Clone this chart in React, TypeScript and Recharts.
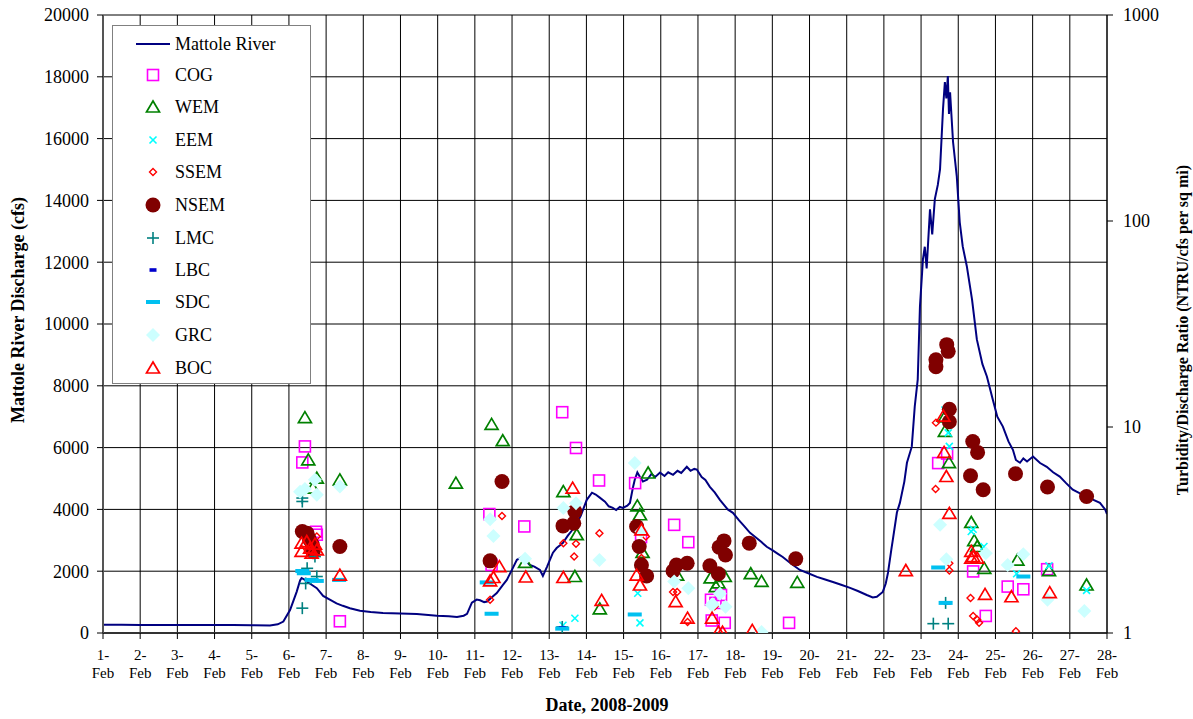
import { ComposedChart, Line, Scatter, XAxis, YAxis, CartesianGrid, Legend } from "recharts";

const FONT = '"Liberation Serif", "Times New Roman", serif';

// Mattole River discharge (cfs)
const flowDays = [
  1.0, 1.5, 2.0, 2.5, 3.0, 3.5, 4.0, 4.5, 5.0, 5.49, 5.7, 5.85, 6.03, 6.21, 6.3, 6.34, 6.43, 6.5, 6.61,
  6.75, 6.92, 7.1, 7.28, 7.45, 7.64, 7.91, 8.2, 8.53, 9.0, 9.44, 9.98, 10.3, 10.52, 10.7, 10.79, 10.92,
  11.05, 11.14, 11.25, 11.33, 11.45, 11.59, 11.75, 11.86, 12.0, 12.13, 12.22, 12.29, 12.4, 12.48, 12.6,
  12.75, 12.83, 12.94, 13.1, 13.2, 13.3, 13.37, 13.5, 13.6, 13.75, 13.85, 14.01, 14.15, 14.25, 14.36,
  14.5, 14.6, 14.71, 14.8, 14.9, 14.98, 15.1, 15.17, 15.25, 15.3, 15.37, 15.44, 15.52, 15.63, 15.75,
  15.85, 15.98, 16.1, 16.2, 16.33, 16.45, 16.55, 16.7, 16.8, 16.9, 16.97, 17.1, 17.2, 17.32, 17.45,
  17.59, 17.7, 17.8, 17.94, 18.1, 18.25, 18.4, 18.55, 18.7, 18.85, 19.0, 19.15, 19.28, 19.5, 19.74,
  19.95, 20.2, 20.4, 20.63, 20.85, 21.09, 21.3, 21.54, 21.7, 21.81, 21.97, 22.05, 22.11, 22.2, 22.24,
  22.35, 22.43, 22.55, 22.62, 22.75, 22.83, 22.91, 22.97, 23.05, 23.1, 23.15, 23.24, 23.3, 23.37, 23.45,
  23.51, 23.59, 23.64, 23.68, 23.72, 23.75, 23.78, 23.86, 23.96, 24.04, 24.12, 24.23, 24.37, 24.5,
  24.65, 24.77, 24.93, 25.05, 25.2, 25.35, 25.47, 25.55, 25.66, 25.75, 25.85, 26.01, 26.2, 26.38,
  26.55, 26.73, 26.9, 27.08, 27.3, 27.46, 27.65, 27.81, 27.95, 28.0,
];
const flowCfs = [
  270, 265, 262, 262, 260, 258, 258, 255, 252, 240, 280, 370, 745, 1340, 1700, 1780, 1720, 1650, 1560,
  1450, 1200, 1080, 960, 880, 800, 720, 680, 650, 630, 615, 560, 540, 520, 560, 620, 980, 1080, 1060,
  1000, 1020, 1150, 1290, 1550, 1720, 2050, 2370, 2420, 2480, 2300, 2200, 2150, 2040, 1850, 2140, 2600,
  2750, 2850, 2920, 3150, 3300, 3570, 3800, 4310, 4540, 4480, 4380, 4250, 4100, 4050, 3980, 4080, 4050,
  4120, 4210, 4700, 4960, 5200, 5050, 4900, 4960, 5150, 5050, 5190, 5080, 5200, 5120, 5250, 5180, 5380,
  5250, 5310, 5290, 5050, 4950, 4730, 4550, 4310, 4150, 4000, 3890, 3650, 3450, 3240, 3100, 2950, 2790,
  2680, 2560, 2460, 2250, 2040, 1940, 1815, 1740, 1650, 1560, 1460, 1360, 1230, 1150, 1170, 1330, 1600,
  1945, 2700, 3015, 3900, 4210, 4900, 5510, 6030, 7330, 8200, 10570, 12090, 12500, 11800, 13710, 12900,
  14040, 14500, 15010, 16960, 17830, 17300, 18025, 16800, 17500, 15890, 14780, 13290, 12510, 11870,
  10800, 9500, 8700, 8300, 7550, 7000, 6680, 6200, 5930, 5600, 5510, 5650, 5550, 5710, 5500, 5380, 5200,
  5060, 4850, 4640, 4500, 4410, 4300, 4210, 4000, 3850,
];

// Turbidity / discharge ratio samples: [day of February, ratio]
const COG = [
  [6.43, 8.05], [6.36, 6.73], [6.75, 3.0], [6.73, 3.1], [7.37, 1.14], [11.39, 3.78], [11.45, 2.14],
  [12.33, 3.29], [13.35, 11.8], [13.72, 7.91], [14.34, 5.5], [15.31, 5.34], [15.47, 2.92], [16.36, 3.35],
  [16.74, 2.76], [17.35, 1.45], [17.37, 1.15], [17.62, 1.53], [17.47, 1.4], [17.72, 1.12], [19.45, 1.12],
  [23.46, 6.68], [23.7, 7.43], [24.4, 1.99], [24.74, 1.21], [25.33, 1.68], [25.75, 1.63], [26.39, 2.04],
];
const WEM = [
  [6.43, 11.1], [6.52, 6.93], [6.75, 5.65], [6.64, 5.05], [7.37, 5.54], [10.49, 5.34], [11.45, 10.3],
  [11.75, 8.58], [12.35, 2.2], [13.38, 4.86], [13.69, 1.88], [13.74, 3.0], [14.36, 1.31], [15.37, 4.14],
  [15.44, 3.75], [15.51, 2.46], [15.66, 5.98], [16.44, 1.91], [17.34, 1.85], [17.48, 1.68], [17.72, 1.88],
  [17.55, 1.75], [18.42, 1.94], [18.71, 1.78], [19.67, 1.76], [23.64, 11.2], [23.64, 9.52], [23.75, 6.72],
  [24.35, 3.44], [24.43, 2.81], [24.51, 2.63], [24.7, 2.06], [25.59, 2.26], [26.44, 2.01], [27.45, 1.71],
];
const EEM = [
  [13.37, 1.09], [13.69, 1.18], [15.38, 1.56], [15.44, 1.12], [23.64, 12.1], [23.73, 9.36], [23.76, 8.05],
  [24.4, 3.19], [24.35, 3.11], [24.69, 2.63], [25.57, 1.94], [26.44, 2.12], [27.45, 1.61],
];
const SSEM = [
  [6.75, 2.94], [6.6, 2.6], [11.73, 3.7], [11.41, 1.45], [13.38, 2.73], [13.72, 2.71], [13.67, 2.35],
  [14.35, 3.05], [15.6, 2.94], [15.48, 2.31], [16.33, 1.58], [16.44, 1.58], [16.72, 1.13], [17.45, 1.35],
  [23.4, 10.5], [23.39, 5.0], [23.76, 2.18], [23.76, 2.01], [24.33, 1.48], [24.4, 1.21], [24.51, 1.16],
  [24.56, 1.12], [25.55, 1.02],
];
const NSEM = [
  [6.36, 3.11], [6.49, 3.05], [6.63, 2.68], [6.65, 2.48], [6.55, 2.85], [7.37, 2.63], [11.41, 2.24],
  [11.73, 5.44], [13.37, 3.31], [13.66, 3.41], [13.69, 3.89], [15.35, 3.29], [15.42, 2.63], [15.48, 2.14],
  [15.62, 1.89], [16.33, 2.0], [16.42, 2.14], [16.71, 2.18], [17.32, 2.12], [17.55, 1.94], [17.57, 2.61],
  [17.7, 2.8], [17.74, 2.39], [18.38, 2.73], [19.63, 2.29], [23.69, 25.1], [23.73, 23.3], [23.4, 21.2],
  [23.4, 19.6], [23.76, 12.2], [23.76, 10.6], [24.39, 8.51], [24.52, 7.53], [24.33, 5.8], [24.67, 4.96],
  [25.54, 5.93], [26.4, 5.11], [27.45, 4.6],
];
const LMC = [
  [6.36, 4.52], [6.36, 4.35], [6.49, 2.06], [6.7, 2.35], [6.75, 1.88], [6.45, 1.74], [6.36, 1.32],
  [13.35, 1.07], [23.33, 1.11], [23.73, 1.11], [23.66, 1.4],
];
const LBC = [[23.7, 1.4], [13.35, 1.06]];
const SDC = [
  [6.36, 2.0], [6.4, 1.95], [6.61, 1.81], [6.75, 1.79], [7.35, 1.81], [11.32, 1.76], [11.45, 1.24],
  [13.35, 1.05], [15.3, 1.23], [23.46, 2.08], [23.66, 1.4], [25.75, 1.88],
];
const GRC = [
  [6.43, 5.0], [6.7, 5.54], [6.75, 4.69], [6.3, 4.85], [7.37, 5.14], [11.41, 3.57], [11.5, 2.96],
  [12.35, 2.29], [13.38, 4.04], [13.72, 4.27], [14.35, 2.26], [15.3, 6.68], [15.48, 3.11], [16.36, 1.78],
  [16.74, 1.65], [17.37, 1.37], [17.59, 1.55], [17.4, 1.38], [17.74, 1.34], [18.71, 1.01], [23.51, 3.35],
  [23.68, 2.28], [24.74, 2.44], [25.33, 2.14], [25.75, 2.41], [26.4, 1.45], [27.39, 1.28],
];
const BOC = [
  [6.34, 2.73], [6.34, 2.49], [6.48, 2.78], [6.57, 2.58], [6.61, 2.44], [6.75, 2.53], [6.7, 2.7],
  [7.37, 1.91], [11.66, 2.1], [11.5, 1.86], [11.41, 1.79], [12.37, 1.87], [13.38, 1.86], [13.63, 5.05],
  [14.41, 1.44], [15.35, 1.91], [15.44, 1.71], [15.48, 3.17], [16.4, 1.42], [16.72, 1.18], [17.38, 1.18],
  [17.55, 1.01], [17.66, 1.01], [18.46, 1.03], [22.59, 2.01], [23.6, 11.3], [23.62, 7.53], [23.68, 5.75],
  [23.76, 3.81], [24.35, 2.49], [24.4, 2.35], [24.51, 2.31], [24.35, 2.31], [24.72, 1.54], [25.43, 1.5],
  [26.46, 1.57],
];

const dayTicks = [1, 2, 3, 4, 5, 6, 7, 8, 9, 10, 11, 12, 13, 14, 15, 16, 17, 18, 19, 20, 21, 22, 23, 24, 25, 26, 27, 28];
const cfsTicks = [0, 2000, 4000, 6000, 8000, 10000, 12000, 14000, 16000, 18000, 20000];
const ratioTicks = [1, 10, 100, 1000];

const flow = flowDays.map((d, i) => ({ d, q: flowCfs[i] }));
const pts = (arr: number[][]) => arr.map(([d, r]) => ({ d, r }));

type Kind = "COG" | "WEM" | "EEM" | "SSEM" | "NSEM" | "LMC" | "LBC" | "SDC" | "GRC" | "BOC";

function marker(kind: Kind, cx: number, cy: number, key?: string) {
  switch (kind) {
    case "COG":
      return <rect key={key} x={cx - 5.5} y={cy - 5.5} width={11} height={11} fill="none" stroke="#FF00FF" strokeWidth={1.6} />;
    case "WEM":
    case "BOC":
      return (
        <polygon
          key={key}
          points={`${cx},${cy - 6} ${cx - 6.5},${cy + 5} ${cx + 6.5},${cy + 5}`}
          fill="none"
          stroke={kind === "WEM" ? "#008000" : "#FF0000"}
          strokeWidth={1.7}
        />
      );
    case "EEM":
      return (
        <g key={key} stroke="#00FFFF" strokeWidth={1.6}>
          <line x1={cx - 3.5} y1={cy - 3.5} x2={cx + 3.5} y2={cy + 3.5} />
          <line x1={cx - 3.5} y1={cy + 3.5} x2={cx + 3.5} y2={cy - 3.5} />
        </g>
      );
    case "SSEM":
      return (
        <polygon
          key={key}
          points={`${cx},${cy - 3.5} ${cx + 3.5},${cy} ${cx},${cy + 3.5} ${cx - 3.5},${cy}`}
          fill="none"
          stroke="#FF0000"
          strokeWidth={1.4}
        />
      );
    case "NSEM":
      return <circle key={key} cx={cx} cy={cy} r={7.5} fill="#800000" />;
    case "LMC":
      return (
        <g key={key} stroke="#008080" strokeWidth={1.6}>
          <line x1={cx - 6} y1={cy} x2={cx + 6} y2={cy} />
          <line x1={cx} y1={cy - 6} x2={cx} y2={cy + 6} />
        </g>
      );
    case "LBC":
      return <rect key={key} x={cx - 3.5} y={cy - 1.8} width={7} height={3.6} fill="#0000CC" />;
    case "SDC":
      return <rect key={key} x={cx - 7} y={cy - 2} width={14} height={4} fill="#00C0F0" />;
    case "GRC":
      return (
        <polygon
          key={key}
          points={`${cx},${cy - 7} ${cx + 7},${cy} ${cx},${cy + 7} ${cx - 7},${cy}`}
          fill="#CCFFFF"
        />
      );
  }
}

const series: { name: Kind; data: number[][] }[] = [
  { name: "COG", data: COG },
  { name: "WEM", data: WEM },
  { name: "EEM", data: EEM },
  { name: "SSEM", data: SSEM },
  { name: "NSEM", data: NSEM },
  { name: "LMC", data: LMC },
  { name: "LBC", data: LBC },
  { name: "SDC", data: SDC },
  { name: "GRC", data: GRC },
  { name: "BOC", data: BOC },
];

// eslint-disable-next-line @typescript-eslint/no-explicit-any
function DateTick({ x, y, payload }: any) {
  return (
    <text x={x} y={y} textAnchor="middle" fontFamily={FONT} fontSize={15} fill="#000">
      <tspan x={x} dy={21}>{`${payload.value}-`}</tspan>
      <tspan x={x} dy={18}>Feb</tspan>
    </text>
  );
}

function LegendBox() {
  const rowY = [19, 50, 82, 115, 147, 180, 213, 245, 277, 310, 343];
  return (
    <svg width={199} height={359} style={{ display: "block" }}>
      <rect x={0.5} y={0.5} width={198} height={358} fill="#fff" stroke="#808080" strokeWidth={1} />
      <line x1={24} y1={rowY[0]} x2={58} y2={rowY[0]} stroke="#000080" strokeWidth={2} />
      <text x={63} y={rowY[0] + 6} fontFamily={FONT} fontSize={18} fill="#000">Mattole River</text>
      {series.map((s, i) => (
        <g key={s.name}>
          {marker(s.name, 41, rowY[i + 1])}
          <text x={63} y={rowY[i + 1] + 6} fontFamily={FONT} fontSize={18} fill="#000">{s.name}</text>
        </g>
      ))}
    </svg>
  );
}

export default function App() {
  return (
    <div style={{ position: "absolute", left: 0, top: 0, width: 1193, height: 719, fontFamily: FONT, background: "#fff" }}>
      <ComposedChart width={1193} height={719} margin={{ top: 15, right: 0, bottom: 0, left: 0 }}>
        <CartesianGrid xAxisId="x" yAxisId="left" stroke="#000" strokeWidth={1} />
        <XAxis
          xAxisId="x"
          dataKey="d"
          type="number"
          domain={[1, 28]}
          ticks={dayTicks}
          interval={0}
          allowDataOverflow
          height={86}
          tickSize={6}
          tickMargin={0}
          tick={<DateTick />}
          tickLine={{ stroke: "#000" }}
          axisLine={{ stroke: "#333", strokeWidth: 2 }}
        />
        <YAxis
          yAxisId="left"
          orientation="left"
          type="number"
          domain={[0, 20000]}
          ticks={cfsTicks}
          interval={0}
          width={103}
          tickSize={6}
          tickMargin={8}
          tick={{ fill: "#000", fontSize: 18, fontFamily: FONT }}
          tickLine={{ stroke: "#000" }}
          axisLine={{ stroke: "#555", strokeWidth: 2 }}
        />
        <YAxis
          yAxisId="right"
          orientation="right"
          type="number"
          scale="log"
          domain={[1, 1000]}
          ticks={ratioTicks}
          interval={0}
          allowDataOverflow
          width={86}
          tickSize={6}
          tickMargin={10}
          tick={{ fill: "#000", fontSize: 18, fontFamily: FONT }}
          tickLine={{ stroke: "#000" }}
          axisLine={{ stroke: "#000" }}
        />
        <Legend
          layout="vertical"
          align="center"
          verticalAlign="middle"
          content={() => <LegendBox />}
          wrapperStyle={{ left: 112, top: 25, width: 199, height: 359 }}
        />
        <Line
          xAxisId="x"
          yAxisId="left"
          data={flow}
          dataKey="q"
          name="Mattole River"
          type="linear"
          stroke="#000080"
          strokeWidth={2}
          dot={false}
          isAnimationActive={false}
        />
        {series.map((s) => (
          <Scatter
            key={s.name}
            name={s.name}
            xAxisId="x"
            yAxisId="right"
            data={pts(s.data)}
            dataKey="r"
            // eslint-disable-next-line @typescript-eslint/no-explicit-any
            shape={(p: any) => marker(s.name, p.cx, p.cy) as any}
            isAnimationActive={false}
          />
        ))}
      </ComposedChart>
      <svg width={1193} height={719} style={{ position: "absolute", left: 0, top: 0, pointerEvents: "none" }}>
        <text x={24} y={310} transform="rotate(-90 24 310)" textAnchor="middle" fontFamily={FONT} fontSize={18} fontWeight="bold" fill="#000">
          Mattole River Discharge (cfs)
        </text>
        <text x={1188} y={330} transform="rotate(-90 1188 330)" textAnchor="middle" fontFamily={FONT} fontSize={16} fontWeight="bold" fill="#000">
          Turbidity/Discharge Ratio (NTRU/cfs per sq mi)
        </text>
        <text x={607} y={711} textAnchor="middle" fontFamily={FONT} fontSize={18} fontWeight="bold" fill="#000">
          Date, 2008-2009
        </text>
      </svg>
    </div>
  );
}
